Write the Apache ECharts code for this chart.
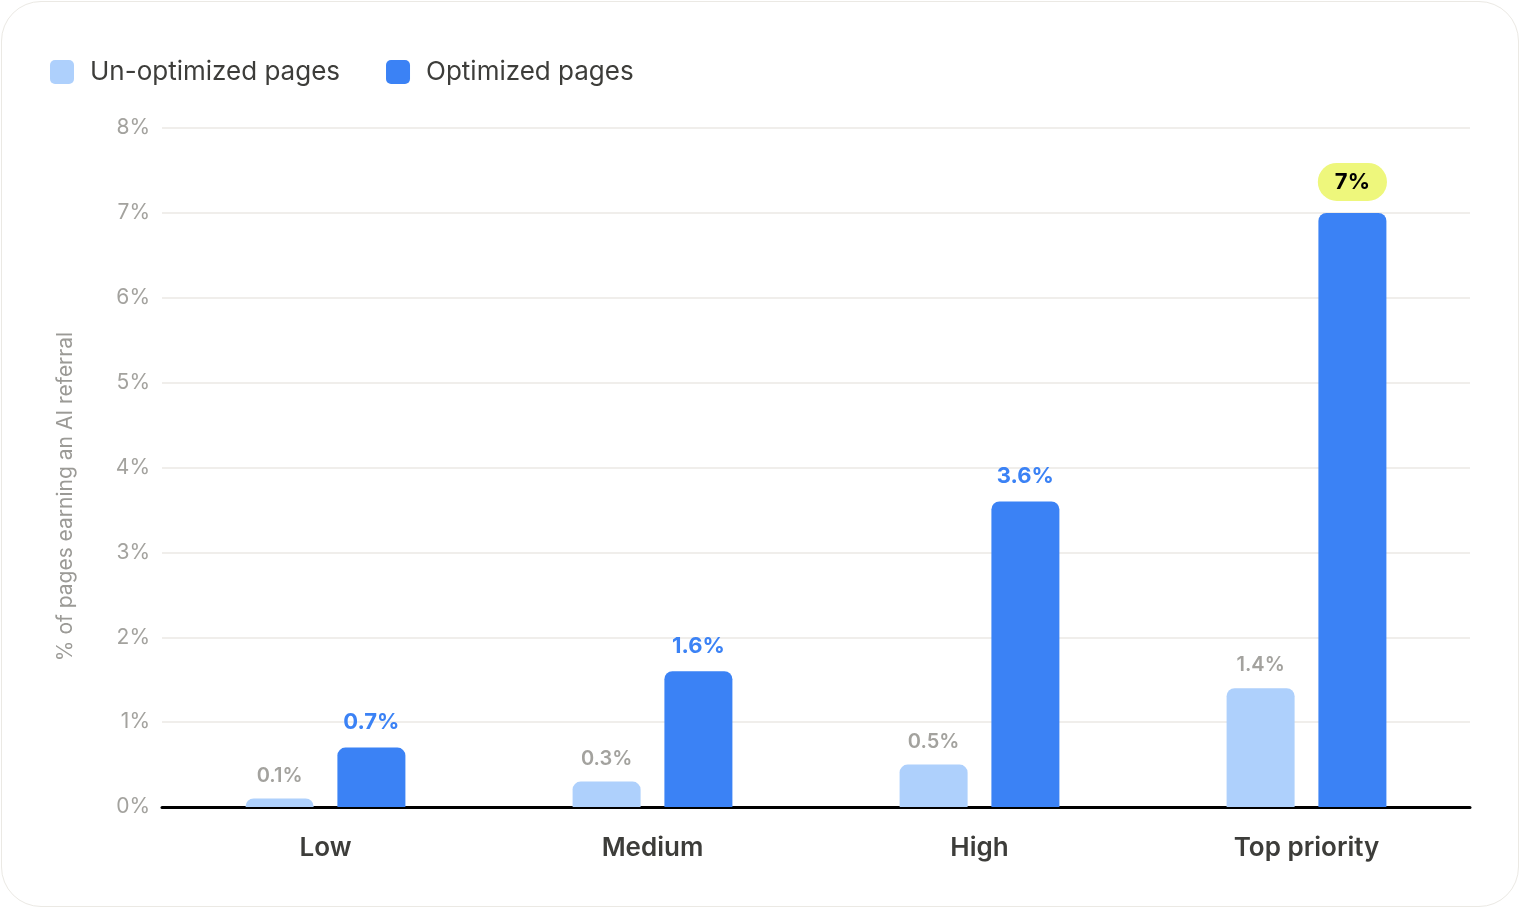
<!DOCTYPE html>
<html>
<head>
<meta charset="utf-8">
<script src="https://cdn.jsdelivr.net/npm/echarts@6/dist/echarts.min.js"></script>
<style>
  html, body { margin: 0; padding: 0; background: #fff; }
  #frame {
    position: absolute; left: 1px; top: 1px; width: 1518px; height: 906px;
    border: 1.5px solid #ebe9e4; border-radius: 40px; box-sizing: border-box;
  }
  #chart { position: absolute; left: 0; top: 0; width: 1520px; height: 908px; }
</style>
</head>
<body>
<div id="frame"></div>
<div id="chart"></div>
<script>
const categories = ['Low', 'Medium', 'High', 'Top priority']
const unoptimized = [0.1, 0.3, 0.5, 1.4]
const optimized = [0.7, 1.6, 3.6, 7]
const yTicks = [0, 1, 2, 3, 4, 5, 6, 7, 8]

const font = 'Inter, "Noto Sans", sans-serif'
const pillIndex = optimized.length - 1

const chart = echarts.init(document.getElementById('chart'), null, { renderer: 'canvas' })

chart.setOption({
  backgroundColor: 'transparent',
  animation: false,
  textStyle: { fontFamily: font },
  legend: {
    left: 45,
    top: 54,
    itemWidth: 24,
    itemHeight: 24,
    itemGap: 46,
    icon: 'path://M5,0 H19 A5,5 0 0 1 24,5 V19 A5,5 0 0 1 19,24 H5 A5,5 0 0 1 0,19 V5 A5,5 0 0 1 5,0 Z',
    textStyle: { fontSize: 26, color: '#3d3d3a', fontFamily: font, padding: [0, 0, 0, 11] },
    data: ['Un-optimized pages', 'Optimized pages'],
  },
  grid: { left: 162, right: 50, top: 128, bottom: 101 },
  xAxis: {
    type: 'category',
    data: categories,
    axisLine: { show: true, lineStyle: { color: '#000', width: 3 } },
    axisTick: { show: false },
    axisLabel: { margin: 28, fontSize: 26, fontWeight: 600, color: '#3d3d3a', fontFamily: font },
  },
  yAxis: {
    type: 'value',
    min: yTicks[0],
    max: yTicks[yTicks.length - 1],
    interval: 1,
    name: '% of pages earning an AI referral',
    nameLocation: 'middle',
    nameGap: 86,
    nameTextStyle: { fontSize: 21, color: '#9b9a96', fontFamily: font, padding: [0, 58, 0, 0] },
    axisLine: { show: false },
    axisTick: { show: false },
    axisLabel: { margin: 12, fontSize: 21, color: '#a3a29e', formatter: '{value}%', fontFamily: font },
    splitLine: { lineStyle: { color: '#ebe9e5', width: 1.5 } },
  },
  series: [
    {
      name: 'Un-optimized pages',
      type: 'bar',
      data: unoptimized,
      barWidth: 68,
      barGap: '35%',
      itemStyle: { color: '#aed0fc', borderRadius: [8, 8, 0, 0] },
      label: {
        show: true,
        position: 'top',
        distance: 13,
        formatter: '{c}%',
        fontSize: 20,
        fontWeight: 600,
        color: '#a3a29e',
        fontFamily: font,
      },
      z: 2,
    },
    {
      name: 'Optimized pages',
      type: 'bar',
      data: optimized.map((v, i) => i === pillIndex ? {
        value: v,
        label: {
          color: '#000',
          backgroundColor: '#eef77c',
          borderRadius: 19,
          padding: [9, 17, 7, 17],
          distance: 12,
        },
      } : v),
      barWidth: 68,
      itemStyle: { color: '#3b82f5', borderRadius: [8, 8, 0, 0] },
      label: {
        show: true,
        position: 'top',
        distance: 14,
        formatter: '{c}%',
        fontSize: 22,
        fontWeight: 700,
        color: '#3b82f5',
        fontFamily: font,
      },
      z: 2,
    },
  ],
})
</script>
</body>
</html>
